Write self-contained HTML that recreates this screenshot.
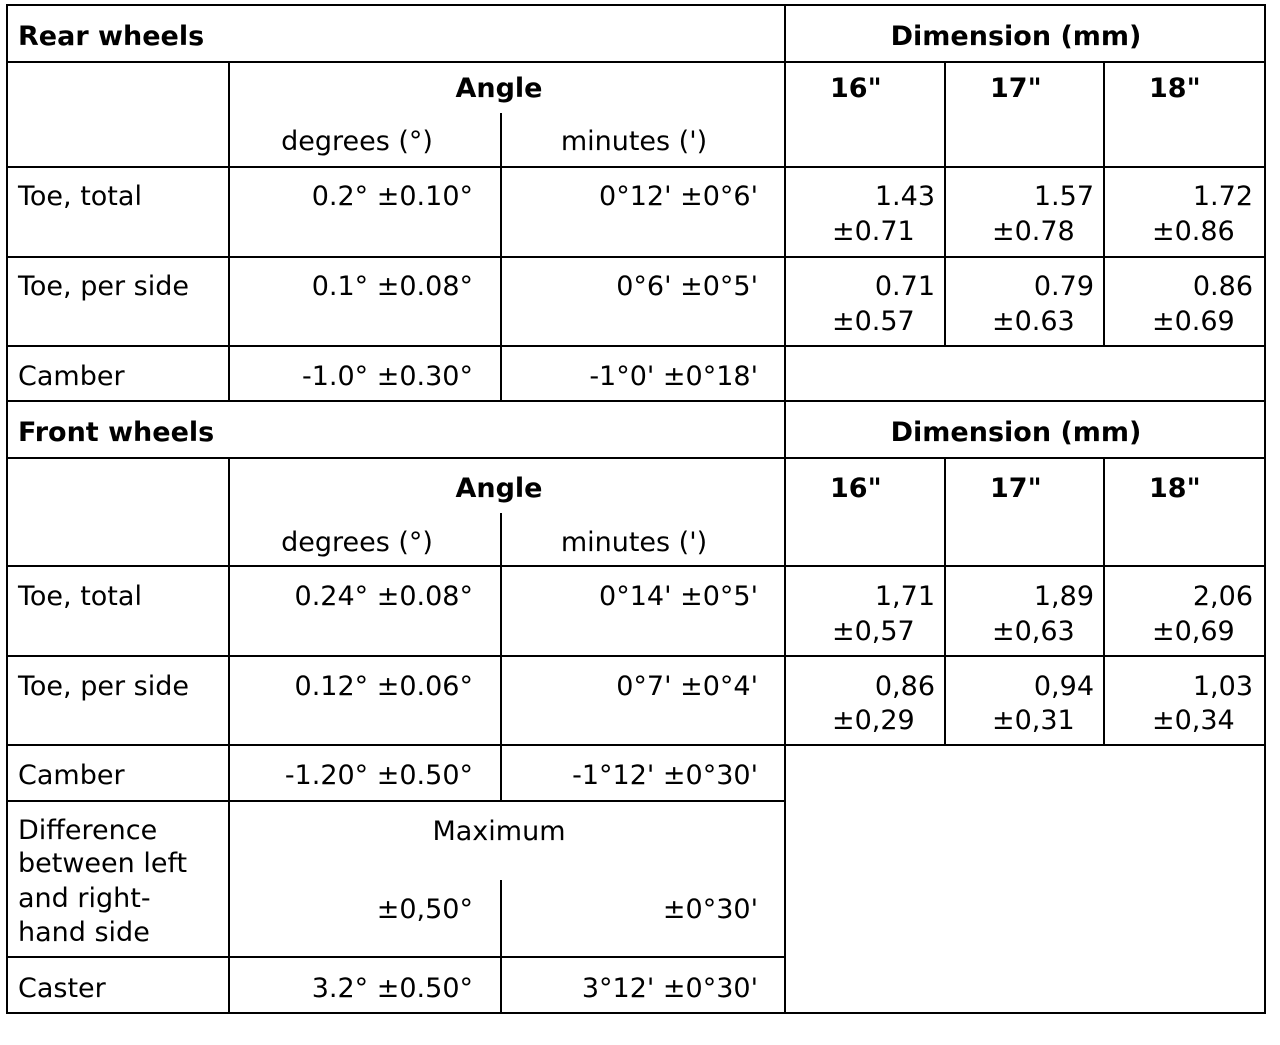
<!DOCTYPE html>
<html><head><meta charset="utf-8"><style>
body{margin:0;background:#fff;}
svg text{font-family:"DejaVu Sans","Liberation Sans",sans-serif;font-size:27px;fill:#000;}
.b{font-weight:bold;}
</style></head><body>
<svg width="1280" height="1040" viewBox="0 0 1280 1040" xmlns="http://www.w3.org/2000/svg">
<g stroke="#000" stroke-width="2" fill="none">
<rect x="7" y="5" width="1258" height="1008"/>
<line x1="7" y1="62" x2="1265" y2="62"/>
<line x1="7" y1="167" x2="1265" y2="167"/>
<line x1="7" y1="257" x2="1265" y2="257"/>
<line x1="7" y1="346" x2="1265" y2="346"/>
<line x1="7" y1="401" x2="1265" y2="401"/>
<line x1="7" y1="458" x2="1265" y2="458"/>
<line x1="7" y1="566" x2="1265" y2="566"/>
<line x1="7" y1="656" x2="1265" y2="656"/>
<line x1="7" y1="745" x2="1265" y2="745"/>
<line x1="7" y1="801" x2="785" y2="801"/>
<line x1="7" y1="957" x2="785" y2="957"/>
<line x1="785" y1="5" x2="785" y2="1013"/>
<line x1="229" y1="62" x2="229" y2="401"/>
<line x1="229" y1="458" x2="229" y2="1013"/>
<line x1="501" y1="113" x2="501" y2="401"/>
<line x1="501" y1="513" x2="501" y2="801"/>
<line x1="501" y1="880" x2="501" y2="1013"/>
<line x1="945" y1="62" x2="945" y2="346"/>
<line x1="1104" y1="62" x2="1104" y2="346"/>
<line x1="945" y1="458" x2="945" y2="745"/>
<line x1="1104" y1="458" x2="1104" y2="745"/>
</g>
<text class="b" x="18" y="45">Rear wheels</text>
<text class="b" x="1016" y="45" text-anchor="middle">Dimension (mm)</text>
<text class="b" x="499" y="97" text-anchor="middle">Angle</text>
<text class="b" x="830" y="97">16"</text><text class="b" x="990" y="97">17"</text><text class="b" x="1149" y="97">18"</text>
<text x="357" y="150" text-anchor="middle">degrees (°)</text>
<text x="634" y="150" text-anchor="middle">minutes (')</text>

<text x="18" y="205">Toe, total</text>
<text x="473" y="205" text-anchor="end">0.2° ±0.10°</text>
<text x="758" y="205" text-anchor="end">0°12' ±0°6'</text>
<text x="935" y="205" text-anchor="end">1.43</text><text x="832" y="240">±0.71</text>
<text x="1094" y="205" text-anchor="end">1.57</text><text x="992" y="240">±0.78</text>
<text x="1253" y="205" text-anchor="end">1.72</text><text x="1152" y="240">±0.86</text>

<text x="18" y="295">Toe, per side</text>
<text x="473" y="295" text-anchor="end">0.1° ±0.08°</text>
<text x="758" y="295" text-anchor="end">0°6' ±0°5'</text>
<text x="935" y="295" text-anchor="end">0.71</text><text x="832" y="330">±0.57</text>
<text x="1094" y="295" text-anchor="end">0.79</text><text x="992" y="330">±0.63</text>
<text x="1253" y="295" text-anchor="end">0.86</text><text x="1152" y="330">±0.69</text>

<text x="18" y="385">Camber</text>
<text x="473" y="385" text-anchor="end">-1.0° ±0.30°</text>
<text x="758" y="385" text-anchor="end">-1°0' ±0°18'</text>

<text class="b" x="18" y="441">Front wheels</text>
<text class="b" x="1016" y="441" text-anchor="middle">Dimension (mm)</text>
<text class="b" x="499" y="497" text-anchor="middle">Angle</text>
<text class="b" x="830" y="497">16"</text><text class="b" x="990" y="497">17"</text><text class="b" x="1149" y="497">18"</text>
<text x="357" y="551" text-anchor="middle">degrees (°)</text>
<text x="634" y="551" text-anchor="middle">minutes (')</text>

<text x="18" y="605">Toe, total</text>
<text x="473" y="605" text-anchor="end">0.24° ±0.08°</text>
<text x="758" y="605" text-anchor="end">0°14' ±0°5'</text>
<text x="935" y="605" text-anchor="end">1,71</text><text x="832" y="640">±0,57</text>
<text x="1094" y="605" text-anchor="end">1,89</text><text x="992" y="640">±0,63</text>
<text x="1253" y="605" text-anchor="end">2,06</text><text x="1152" y="640">±0,69</text>

<text x="18" y="695">Toe, per side</text>
<text x="473" y="695" text-anchor="end">0.12° ±0.06°</text>
<text x="758" y="695" text-anchor="end">0°7' ±0°4'</text>
<text x="935" y="695" text-anchor="end">0,86</text><text x="832" y="729">±0,29</text>
<text x="1094" y="695" text-anchor="end">0,94</text><text x="992" y="729">±0,31</text>
<text x="1253" y="695" text-anchor="end">1,03</text><text x="1152" y="729">±0,34</text>

<text x="18" y="784">Camber</text>
<text x="473" y="784" text-anchor="end">-1.20° ±0.50°</text>
<text x="758" y="784" text-anchor="end">-1°12' ±0°30'</text>

<text x="18" y="839">Difference</text>
<text x="18" y="872">between left</text>
<text x="18" y="907">and right-</text>
<text x="18" y="941">hand side</text>
<text x="499" y="840" text-anchor="middle">Maximum</text>
<text x="473" y="918" text-anchor="end">±0,50°</text>
<text x="758" y="918" text-anchor="end">±0°30'</text>

<text x="18" y="997">Caster</text>
<text x="473" y="997" text-anchor="end">3.2° ±0.50°</text>
<text x="758" y="997" text-anchor="end">3°12' ±0°30'</text>
</svg>
</body></html>
